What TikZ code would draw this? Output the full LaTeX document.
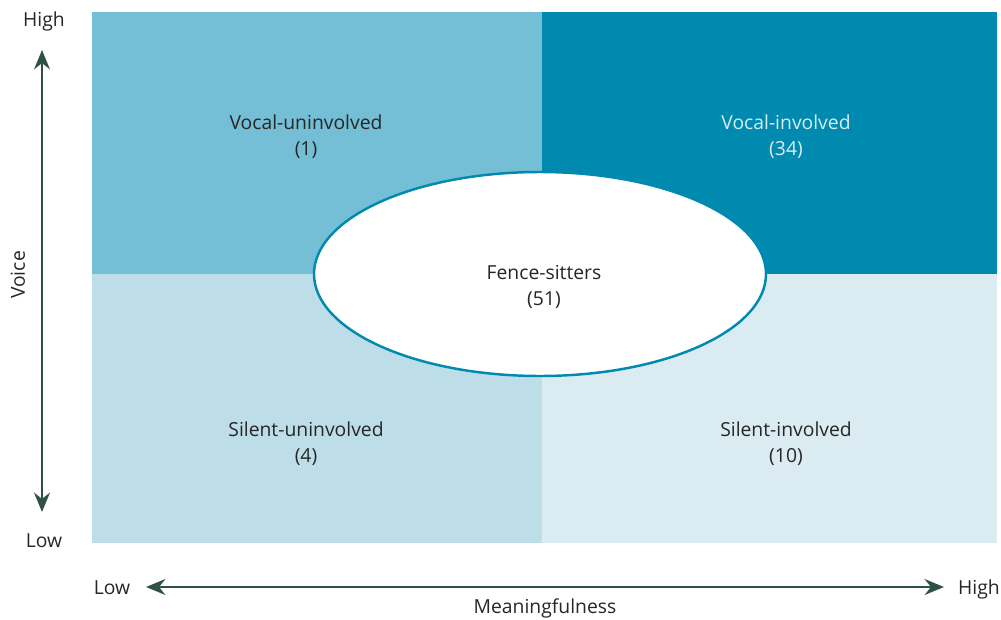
\documentclass[tikz,border=0pt]{standalone}
\usepackage{fontspec}
\setmainfont{Open Sans}
\usetikzlibrary{arrows.meta}
\definecolor{vocunin}{HTML}{74BED6}
\definecolor{vocinv}{HTML}{008AB0}
\definecolor{silunin}{HTML}{BDDEE8}
\definecolor{silinv}{HTML}{DAEBF2}
\definecolor{axisgreen}{HTML}{2F5247}
\definecolor{lighttext}{HTML}{D8EEF5}
\tikzset{
  label text/.style={font=\fontsize{11}{14.6}\selectfont, align=center, text=black!85},
  axis arrow/.style={line width=1.6pt, axisgreen, {Stealth[length=11pt,width=9pt]}-{Stealth[length=11pt,width=9pt]}},
}
\begin{document}
\begin{tikzpicture}[x=0.02cm,y=-0.02cm]
\useasboundingbox (0,0) rectangle (1001,619);

% Quadrants
\fill[vocunin] (92,12) rectangle (542,274);
\fill[vocinv] (542,12) rectangle (997,274);
\fill[silunin] (92,274) rectangle (542,543);
\fill[silinv] (542,274) rectangle (997,543);

% Quadrant labels
\node[label text] (vu) at (306,137) {Vocal-uninvolved\\(1)};
\node[label text, text=lighttext] (vi) at (786,137) {Vocal-involved\\(34)};
\node[label text] (su) at (306,444) {Silent-uninvolved\\(4)};
\node[label text] (si) at (786,444) {Silent-involved\\(10)};

% Centre group
\draw[vocinv, line width=1.4pt, fill=white] (540,274) ellipse [x radius=226, y radius=102];
\node[label text] (fs) at (544,287) {Fence-sitters\\(51)};

% Voice axis
\node[label text] (vhigh) at (44,21) {High};
\node[label text] (vlow) at (44,541) {Low};
\node[label text, rotate=90] (voice) at (18,275) {Voice};
\coordinate (vtop) at (42,50);
\coordinate (vbot) at (42,512);
\draw[axis arrow] (vbot) -- (vtop);

% Meaningfulness axis
\node[label text] (hlow) at (112,588) {Low};
\node[label text] (hhigh) at (979,589) {High};
\node[label text] (mean) at (545,608) {Meaningfulness};
\coordinate (hleft) at (146,587);
\coordinate (hright) at (944,587);
\draw[axis arrow] (hleft) -- (hright);
\end{tikzpicture}
\end{document}
